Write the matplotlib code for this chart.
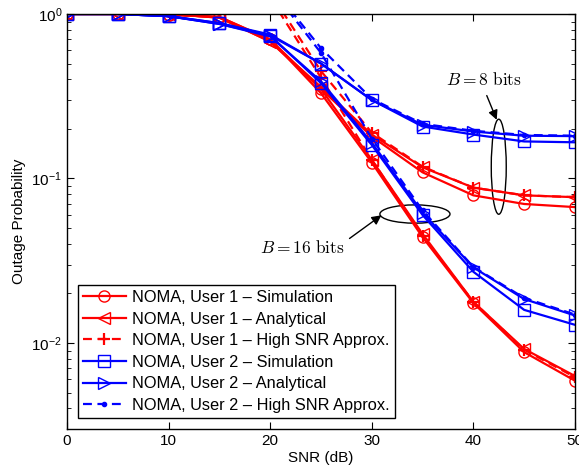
import matplotlib
matplotlib.use('Agg')
import matplotlib.pyplot as plt
from matplotlib.patches import Ellipse
from matplotlib.ticker import FuncFormatter, LogLocator, NullFormatter
import numpy as np

plt.rcParams['font.family'] = ['Liberation Sans', 'DejaVu Sans']
plt.rcParams['mathtext.fontset'] = 'cm'

snr = [0, 5, 10, 15, 20, 25, 30, 35, 40, 45, 50]
snr_hi = [20, 25, 30, 35, 40, 45, 50]

# user 1, simulation (circles)
u1_sim_8 = [1.0, 1.0, 0.99, 0.96, 0.70, 0.35, 0.18, 0.109, 0.079, 0.070, 0.067]
u1_sim_16 = [1.0, 1.0, 0.99, 0.96, 0.70, 0.33, 0.125, 0.044, 0.0175, 0.0088, 0.0059]
# user 1, analytical (left triangles)
u1_ana_8 = [1.0, 1.0, 1.0, 0.95, 0.68, 0.36, 0.185, 0.117, 0.088, 0.079, 0.077]
u1_ana_16 = [1.0, 1.0, 1.0, 0.95, 0.68, 0.35, 0.13, 0.046, 0.0178, 0.0092, 0.0063]
# user 1, high SNR approx
u1_app_8 = [1.35, 0.45, 0.19, 0.118, 0.088, 0.079, 0.077]
u1_app_16 = [1.26, 0.41, 0.13, 0.045, 0.0178, 0.0091, 0.0062]
# user 2, simulation (squares)
u2_sim_8 = [1.0, 1.0, 0.97, 0.88, 0.75, 0.50, 0.30, 0.207, 0.185, 0.168, 0.166]
u2_sim_16 = [1.0, 1.0, 0.97, 0.88, 0.74, 0.38, 0.16, 0.060, 0.0271, 0.0159, 0.0129]
# user 2, analytical (right triangles)
u2_ana_8 = [1.0, 1.0, 0.97, 0.87, 0.74, 0.50, 0.30, 0.212, 0.193, 0.182, 0.181]
u2_ana_16 = [1.0, 1.0, 0.97, 0.87, 0.73, 0.39, 0.165, 0.062, 0.0288, 0.0185, 0.0147]
# user 2, high SNR approx
u2_app_8 = [1.5, 0.62, 0.305, 0.215, 0.195, 0.184, 0.182]
u2_app_16 = [1.45, 0.58, 0.175, 0.064, 0.029, 0.0188, 0.0149]

fig = plt.figure(figsize=(5.79, 4.76), dpi=100)
ax = fig.add_axes([0.1157, 0.0987, 0.8773, 0.8719])

lw = 1.6
ms = 8
red = '#ff0000'
blue = '#0000ff'
dash = (4, 2.5)

def pl(x, y, c, m, lab=None, dashed=False, filled=False):
  kw = dict(color=c, lw=lw, marker=m, markersize=ms, label=lab)
  if filled:
    kw['markersize'] = 6
  else:
    kw['markerfacecolor'] = 'none'
  if m == '+':
    kw['markeredgewidth'] = 1.6
  line, = ax.plot(x, y, **kw)
  if dashed:
    line.set_dashes(dash)
  return line

pl(snr, u1_sim_8, red, 'o', 'NOMA, User 1 \u2013 Simulation')
pl(snr, u1_sim_16, red, 'o')
pl(snr, u1_ana_8, red, '<', 'NOMA, User 1 \u2013 Analytical')
pl(snr, u1_ana_16, red, '<')
pl(snr_hi, u1_app_8, red, '+', 'NOMA, User 1 \u2013 High SNR Approx.', dashed=True)
pl(snr_hi, u1_app_16, red, '+', dashed=True)
pl(snr, u2_sim_8, blue, 's', 'NOMA, User 2 \u2013 Simulation')
pl(snr, u2_sim_16, blue, 's')
pl(snr, u2_ana_8, blue, '>', 'NOMA, User 2 \u2013 Analytical')
pl(snr, u2_ana_16, blue, '>')
pl(snr_hi, u2_app_8, blue, '.', 'NOMA, User 2 \u2013 High SNR Approx.', dashed=True, filled=True)
pl(snr_hi, u2_app_16, blue, '.', dashed=True, filled=True)

ax.set_yscale('log')
ax.set_xlim(0, 50)
ax.set_ylim(0.003, 1.0)
ax.set_xticks([0, 10, 20, 30, 40, 50])
ax.yaxis.set_major_locator(LogLocator(base=10, numticks=10))
ax.yaxis.set_minor_locator(LogLocator(base=10, subs=np.arange(2, 10), numticks=10))
ax.yaxis.set_minor_formatter(NullFormatter())
ax.yaxis.set_major_formatter(FuncFormatter(
  lambda v, p: r'$\mathregular{10^{%d}}$' % int(round(np.log10(v)))))
ax.tick_params(which='both', direction='in', top=True, right=True, labelsize=11)
ax.tick_params(which='major', length=5)
ax.tick_params(which='minor', length=3)
for s in ax.spines.values():
  s.set_linewidth(1.0)

ax.set_xlabel('SNR (dB)', fontsize=11, labelpad=2)
ax.set_ylabel('Outage Probability', fontsize=11, labelpad=4)

# ellipses marking the two groups of curves
ax.add_patch(Ellipse((0.850, 0.632), 0.0295, 0.229, transform=ax.transAxes,
                     fill=False, ec='k', lw=1))
ax.add_patch(Ellipse((0.685, 0.518), 0.138, 0.044, transform=ax.transAxes,
                     fill=False, ec='k', lw=1))
ax.annotate(r'$B = 8\ \mathrm{bits}$', xy=(0.846, 0.745), xycoords='axes fraction',
            xytext=(0.820, 0.843), textcoords='axes fraction', fontsize=12.5,
            ha='center', va='center',
            arrowprops=dict(arrowstyle='-|>', color='k', lw=1, mutation_scale=14,
                            shrinkA=4, shrinkB=0, relpos=(0.5, 0.0)))
ax.annotate(r'$B = 16\ \mathrm{bits}$', xy=(0.619, 0.515), xycoords='axes fraction',
            xytext=(0.463, 0.438), textcoords='axes fraction', fontsize=12.5,
            ha='center', va='center',
            arrowprops=dict(arrowstyle='-|>', color='k', lw=1, mutation_scale=14,
                            shrinkA=2, shrinkB=0, relpos=(1.0, 0.8)))

leg = ax.legend(loc='lower left', bbox_to_anchor=(0.022, 0.027), borderaxespad=0,
                fontsize=11.8, frameon=True, fancybox=False, framealpha=1,
                edgecolor='k', handlelength=2.6, labelspacing=0.4,
                handletextpad=0.4, borderpad=0.3)
leg.get_frame().set_linewidth(1.0)

fig.savefig('out.png', dpi=100)
